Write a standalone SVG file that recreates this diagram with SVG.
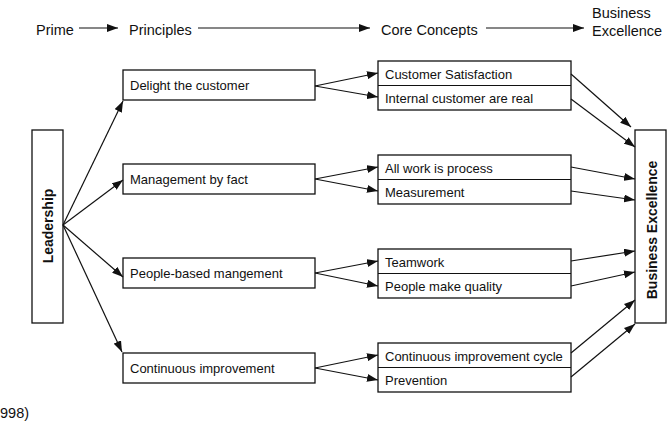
<svg xmlns="http://www.w3.org/2000/svg" width="668" height="422" viewBox="0 0 668 422">
  <style>
    text { font-family: "Liberation Sans", Arial, sans-serif; fill: #111; }
    .hdr { font-size: 14.5px; }
    .lbl { font-size: 13px; }
    .big { font-size: 14px; font-weight: bold; }
    .box { fill: #fff; stroke: #111; stroke-width: 1.3; }
    .div { stroke: #111; stroke-width: 1.2; }
    .arr { fill: none; stroke: #111; stroke-width: 1.2; marker-end: url(#head); }
  </style>
  <defs>
    <marker id="head" markerUnits="userSpaceOnUse" markerWidth="11" markerHeight="8" refX="11" refY="4" orient="auto">
      <path d="M0,0 L11,4 L0,8 z" fill="#111"/>
    </marker>
  </defs>
  <rect width="668" height="422" fill="#fff"/>

  <!-- column headings -->
  <g id="headings">
    <text class="hdr" x="36" y="35">Prime</text>
    <text class="hdr" x="129" y="35">Principles</text>
    <text class="hdr" x="381" y="35">Core Concepts</text>
    <text class="hdr" x="592" y="18">Business</text>
    <text class="hdr" x="592" y="36">Excellence</text>
  </g>

  <!-- prime -->
  <g id="leadership">
    <rect class="box" x="32" y="130" width="31" height="193"/>
    <text class="big" transform="translate(53,226) rotate(-90)" text-anchor="middle">Leadership</text>
  </g>

  <!-- principles -->
  <g id="p-delight">
    <rect class="box" x="123" y="70" width="192" height="30"/>
    <text class="lbl" x="130" y="90">Delight the customer</text>
  </g>
  <g id="p-fact">
    <rect class="box" x="123" y="164" width="192" height="30"/>
    <text class="lbl" x="130" y="184">Management by fact</text>
  </g>
  <g id="p-people">
    <rect class="box" x="123" y="258" width="192" height="30"/>
    <text class="lbl" x="130" y="278">People-based mangement</text>
  </g>
  <g id="p-continuous">
    <rect class="box" x="123" y="353" width="192" height="30"/>
    <text class="lbl" x="130" y="373">Continuous improvement</text>
  </g>

  <!-- core concepts -->
  <g id="c-customer">
    <rect class="box" x="378" y="61" width="193" height="49"/>
    <line class="div" x1="378" y1="85.5" x2="571" y2="85.5"/>
    <text class="lbl" x="385" y="79">Customer Satisfaction</text>
    <text class="lbl" x="385" y="103">Internal customer are real</text>
  </g>
  <g id="c-process">
    <rect class="box" x="378" y="155" width="193" height="49"/>
    <line class="div" x1="378" y1="179.5" x2="571" y2="179.5"/>
    <text class="lbl" x="385" y="173">All work is process</text>
    <text class="lbl" x="385" y="197">Measurement</text>
  </g>
  <g id="c-team">
    <rect class="box" x="378" y="249" width="193" height="49"/>
    <line class="div" x1="378" y1="273.5" x2="571" y2="273.5"/>
    <text class="lbl" x="385" y="267">Teamwork</text>
    <text class="lbl" x="385" y="291">People make quality</text>
  </g>
  <g id="c-cycle">
    <rect class="box" x="378" y="343" width="193" height="49"/>
    <line class="div" x1="378" y1="367.5" x2="571" y2="367.5"/>
    <text class="lbl" x="385" y="361">Continuous improvement cycle</text>
    <text class="lbl" x="385" y="385">Prevention</text>
  </g>

  <!-- outcome -->
  <g id="business-excellence">
    <rect class="box" x="635" y="130" width="31" height="193"/>
    <text class="big" transform="translate(657,230) rotate(-90)" text-anchor="middle">Business Excellence</text>
  </g>

  <!-- connectors -->
  <g id="connectors">
    <line class="arr" x1="79" y1="28" x2="118" y2="28"/>
    <line class="arr" x1="198" y1="28" x2="370" y2="28"/>
    <line class="arr" x1="486" y1="28" x2="584" y2="28"/>

    <line class="arr" x1="63" y1="225" x2="123" y2="101"/>
    <line class="arr" x1="63" y1="225" x2="123" y2="180"/>
    <line class="arr" x1="63" y1="225" x2="123" y2="277"/>
    <line class="arr" x1="63" y1="225" x2="122" y2="352"/>

    <line class="arr" x1="315" y1="86" x2="378" y2="73"/>
    <line class="arr" x1="315" y1="86" x2="378" y2="97"/>
    <line class="arr" x1="315" y1="179" x2="378" y2="167"/>
    <line class="arr" x1="315" y1="179" x2="378" y2="191"/>
    <line class="arr" x1="315" y1="273" x2="378" y2="261"/>
    <line class="arr" x1="315" y1="273" x2="378" y2="286"/>
    <line class="arr" x1="315" y1="368" x2="378" y2="355"/>
    <line class="arr" x1="315" y1="368" x2="378" y2="380"/>

    <line class="arr" x1="571" y1="74" x2="631" y2="127"/>
    <line class="arr" x1="571" y1="99" x2="635" y2="147"/>
    <line class="arr" x1="571" y1="167" x2="635" y2="179"/>
    <line class="arr" x1="571" y1="191" x2="635" y2="200"/>
    <line class="arr" x1="571" y1="261" x2="635" y2="251"/>
    <line class="arr" x1="571" y1="286" x2="635" y2="272"/>
    <line class="arr" x1="571" y1="353" x2="635" y2="300"/>
    <line class="arr" x1="571" y1="377" x2="635" y2="324"/>
  </g>

  <text class="hdr" x="0" y="418" font-size="13">998)</text>
</svg>
